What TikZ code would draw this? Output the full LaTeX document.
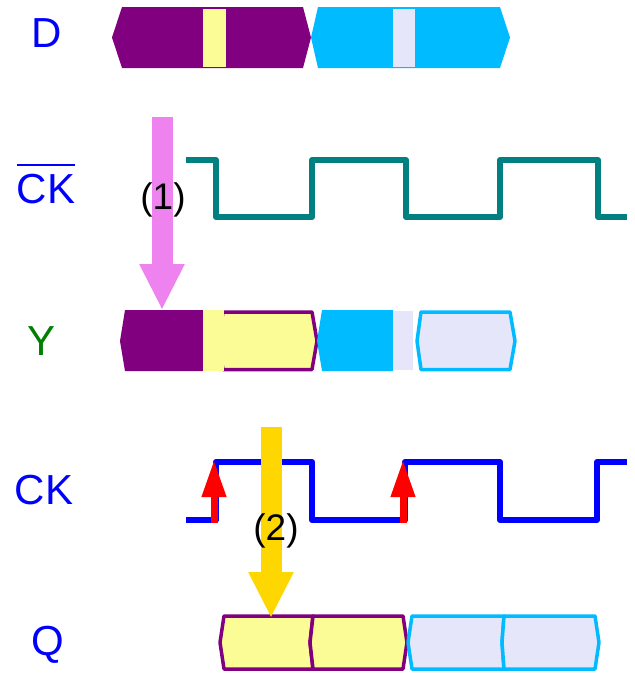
\documentclass[tikz,border=0pt]{standalone}
\usepackage{fontspec}
\setmainfont{Liberation Sans}
\usetikzlibrary{arrows.meta}
\definecolor{bitpurple}{RGB}{128,0,128}
\definecolor{bitcyan}{RGB}{0,187,255}
\definecolor{bityellow}{RGB}{252,252,150}
\definecolor{bitlavender}{RGB}{230,230,250}
\definecolor{clkteal}{RGB}{0,128,128}
\definecolor{arrpink}{RGB}{238,130,238}
\definecolor{arrgold}{RGB}{255,215,0}
\begin{document}
\begin{tikzpicture}
[x=1pt,y=-1pt,%
  every node/.style={inner sep=0pt,font=\fontsize{42}{50}\selectfont},%
  sig/.style={text=blue},%
  num/.style={font=\fontsize{37}{44}\selectfont},%
  wave/.style={line width=6pt,line join=round},%
  bitline/.style={line width=3.5pt,line join=round},%
  bigarrow/.style={line width=21pt,-{Triangle[width=42pt,length=46pt]}},%
  edgearrow/.style={red,line width=7pt,-{Triangle[width=23pt,length=37pt]}}]
\useasboundingbox (0,0) rectangle (635,673);

% labels
\node[sig] (d) at (47,33) {D};
\node[sig] (ckb) at (46,189) {CK};
\draw[blue,line width=2.5pt] ([yshift=9pt]ckb.north west) -- ([yshift=9pt]ckb.north east);
\node[text=green!50!black] (y) at (42,341) {Y};
\node[sig] (ck) at (44,490) {CK};
\node[sig] (q) at (48,645) {Q};

% D
\fill[bitpurple] (112,37.5) -- (122,7) -- (303,7) -- (311,37.5) -- (303,68) -- (122,68) -- cycle;
\fill[bitcyan] (311,37.5) -- (318,7) -- (500,7) -- (510,37.5) -- (500,68) -- (318,68) -- cycle;
\fill[bityellow] (203,9) rectangle (226,67);
\fill[bitlavender] (393,9) rectangle (415,67);

% clocks
\draw[wave,clkteal] (186,160) -- (216,160) -- (216,217) -- (312,217) -- (312,160)
  -- (406,160) -- (406,217) -- (500,217) -- (500,160) -- (598,160) -- (598,217) -- (627,217);
\draw[wave,blue] (186,520) -- (216,520) -- (216,462) -- (312,462) -- (312,520)
  -- (405,520) -- (405,462) -- (500,462) -- (500,520) -- (597,520) -- (597,462) -- (627,462);

% Y
\fill[bitpurple] (120,341) -- (125,310) -- (203,310) -- (203,371) -- (125,371) -- cycle;
\draw[bitline,bitpurple,fill=bityellow] (218,341) -- (223,312) -- (312,312) -- (317,341) -- (312,369.5) -- (223,369.5) -- cycle;
\fill[bityellow] (203,310) rectangle (224,371);
\fill[bitcyan] (317,341) -- (322,310) -- (393,310) -- (393,371) -- (322,371) -- cycle;
\fill[bitlavender] (393,311) rectangle (413,370);
\draw[bitline,bitcyan,fill=bitlavender] (417,341) -- (421,312) -- (510,312) -- (515,341) -- (510,369.5) -- (421,369.5) -- cycle;

% Q
\draw[bitline,bitpurple,fill=bityellow] (220,642.5) -- (224,616) -- (313,616) -- (310,642.5) -- (313,669) -- (224,669) -- cycle;
\draw[bitline,bitpurple,fill=bityellow] (310,642.5) -- (313,616) -- (403,616) -- (407,642.5) -- (403,669) -- (313,669) -- cycle;
\draw[bitline,bitcyan,fill=bitlavender] (408,642.5) -- (412,616) -- (504,616) -- (502,642.5) -- (504,669) -- (412,669) -- cycle;
\draw[bitline,bitcyan,fill=bitlavender] (502,642.5) -- (504,616) -- (595,616) -- (599,642.5) -- (595,669) -- (504,669) -- cycle;

% arrows
\coordinate (s1) at (162,117);
\coordinate (t1) at (162,310);
\coordinate (s2) at (271,427);
\coordinate (t2) at (271,618);
\coordinate (e1s) at (214,523);
\coordinate (e1t) at (214,460);
\coordinate (e2s) at (403,523);
\coordinate (e2t) at (403,460);
\draw[bigarrow,arrpink] (s1) -- (t1);
\draw[bigarrow,arrgold] (s2) -- (t2);
\draw[edgearrow] (e1s) -- (e1t);
\draw[edgearrow] (e2s) -- (e2t);
\node[num] (n1) at (163,200) {(1)};
\node[num] (n2) at (276,531) {(2)};
\end{tikzpicture}
\end{document}
